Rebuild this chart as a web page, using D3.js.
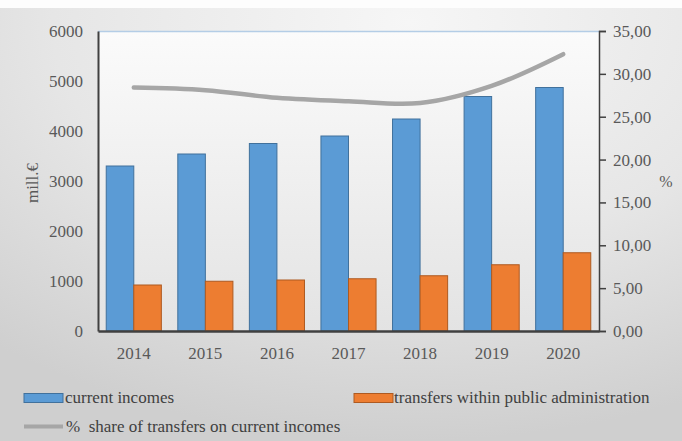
<!DOCTYPE html>
<html>
<head>
<meta charset="utf-8">
<script src="https://cdn.jsdelivr.net/npm/d3@7/dist/d3.min.js"></script>
<style>
  html, body { margin: 0; padding: 0; background: #fff; }
  svg { display: block; }
  svg text { font-family: "Liberation Serif", "Times New Roman", Times, "DejaVu Serif", serif !important; }
</style>
</head>
<body>
<svg id="chart" width="682" height="441"></svg>
<script>
// Years on the category axis
const years = ["2014", "2015", "2016", "2017", "2018", "2019", "2020"];
// Current incomes, mill. €
const currentIncomes = [3300, 3540, 3750, 3900, 4240, 4690, 4870];
// Transfers within public administration, mill. €
const transfers = [920, 995, 1020, 1045, 1105, 1325, 1565];
// Share of transfers on current incomes, %
const shareTransfers = [28.4, 28.1, 27.2, 26.8, 26.6, 28.6, 32.3];
// Axis ticks
const leftTicks = [0, 1000, 2000, 3000, 4000, 5000, 6000];
const rightTicks = [0, 5, 10, 15, 20, 25, 30, 35];
const seriesNames = ["current incomes", "transfers within public administration", "% share of transfers on current incomes"];

const W = 682, H = 441;
const plot = { left: 98, right: 599, top: 31, bottom: 331 };
const FONT = "'Liberation Serif', 'Times New Roman', Times, 'DejaVu Serif', serif";
const FS = 17;

const svg = d3.select("#chart");
const defs = svg.append("defs");

// Soft grey backdrop, lighter towards the top centre
const bg = defs.append("radialGradient").attr("id", "bgGrad")
  .attr("cx", "0.6").attr("cy", "0.05").attr("r", "0.95");
bg.append("stop").attr("offset", "0").attr("stop-color", "#f6f6f6");
bg.append("stop").attr("offset", "0.55").attr("stop-color", "#e6e6e6");
bg.append("stop").attr("offset", "1").attr("stop-color", "#cfcfcf");

const pg = defs.append("linearGradient").attr("id", "plotGrad")
  .attr("x1", 0).attr("y1", 0).attr("x2", 0).attr("y2", 1);
pg.append("stop").attr("offset", "0").attr("stop-color", "#fbfbfb");
pg.append("stop").attr("offset", "1").attr("stop-color", "#e3e3e3");

defs.append("filter").attr("id", "soft")
  .attr("filterUnits", "userSpaceOnUse")
  .attr("x", 0).attr("y", 0).attr("width", W).attr("height", H)
  .append("feGaussianBlur").attr("stdDeviation", 0.6);

svg.append("rect").attr("width", W).attr("height", H).attr("fill", "url(#bgGrad)");
svg.append("rect").attr("width", W).attr("height", 8).attr("fill", "#fdfdfd");

svg.append("rect")
  .attr("x", plot.left).attr("y", plot.top)
  .attr("width", plot.right - plot.left).attr("height", plot.bottom - plot.top)
  .attr("fill", "url(#plotGrad)");

// Scales
const x = d3.scaleBand().domain(years).range([plot.left, plot.right])
  .paddingInner(0.23).paddingOuter(0.115);
const xSub = d3.scaleBand().domain(["inc", "tr"]).range([0, x.bandwidth()]);
const yL = d3.scaleLinear().domain([0, 6000]).range([plot.bottom, plot.top]);
const yR = d3.scaleLinear().domain([0, 35]).range([plot.bottom, plot.top]);

// Top border of plot area
svg.append("line")
  .attr("x1", plot.left).attr("x2", plot.right)
  .attr("y1", plot.top + 0.5).attr("y2", plot.top + 0.5)
  .attr("stroke", "#b4cde6").attr("stroke-width", 1.5);

// Bars
const groups = svg.append("g").selectAll("g").data(years).join("g")
  .attr("transform", d => `translate(${x(d)},0)`);

groups.append("rect")
  .attr("x", xSub("inc")).attr("width", xSub.bandwidth())
  .attr("y", (d, i) => yL(currentIncomes[i]))
  .attr("height", (d, i) => yL(0) - yL(currentIncomes[i]))
  .attr("fill", "#5b9bd5").attr("stroke", "#41719c").attr("stroke-width", 1);

groups.append("rect")
  .attr("x", xSub("tr")).attr("width", xSub.bandwidth())
  .attr("y", (d, i) => yL(transfers[i]))
  .attr("height", (d, i) => yL(0) - yL(transfers[i]))
  .attr("fill", "#ed7d31").attr("stroke", "#ae5a21").attr("stroke-width", 1);

// Share line on secondary axis
const line = d3.line()
  .x((d, i) => x(years[i]) + x.bandwidth() / 2)
  .y(d => yR(d))
  .curve(d3.curveCatmullRom.alpha(0.5));

svg.append("path").datum(shareTransfers)
  .attr("d", line)
  .attr("fill", "none").attr("stroke", "#a6a6a6")
  .attr("stroke-width", 4.5).attr("stroke-linecap", "round")
  .attr("filter", "url(#soft)");

// Axes
const tickColor = "#595959";

const leftAxis = svg.append("g").attr("transform", `translate(${plot.left},0)`)
  .call(d3.axisLeft(yL).tickValues(leftTicks).tickSize(0).tickPadding(15).tickFormat(d3.format("d")));
leftAxis.attr("font-family", FONT);
leftAxis.select(".domain").attr("stroke", "#404040").attr("stroke-width", 2);
leftAxis.selectAll("text").attr("font-size", FS).attr("fill", tickColor);

const fmtR = d => d3.format(".2f")(d).replace(".", ",");
const rightAxis = svg.append("g").attr("transform", `translate(${plot.right},0)`)
  .call(d3.axisRight(yR).tickValues(rightTicks).tickSize(7).tickPadding(7).tickFormat(fmtR));
rightAxis.attr("font-family", FONT);
rightAxis.select(".domain").attr("stroke", "#404040").attr("stroke-width", 1.5);
rightAxis.selectAll("line").attr("stroke", "#404040").attr("stroke-width", 1.5);
rightAxis.selectAll("text").attr("font-size", FS).attr("fill", tickColor);

const bottomAxis = svg.append("g").attr("transform", `translate(0,${plot.bottom})`)
  .call(d3.axisBottom(x).tickSize(0).tickPadding(16));
bottomAxis.attr("font-family", FONT);
bottomAxis.select(".domain").attr("stroke", "#404040").attr("stroke-width", 2.5);
bottomAxis.selectAll("text").attr("font-size", FS).attr("fill", tickColor);

// Axis titles
svg.append("text")
  .attr("transform", "translate(38,183) rotate(-90)")
  .attr("text-anchor", "middle")
  .attr("font-family", FONT)
  .attr("font-size", FS).attr("fill", tickColor)
  .text("mill.€");

svg.append("text")
  .attr("x", 666).attr("y", 187)
  .attr("text-anchor", "middle")
  .attr("font-family", FONT)
  .attr("font-size", 16).attr("fill", tickColor)
  .text("%");

// Legend
const legendColor = "#404040";
const leg = svg.append("g").attr("font-family", FONT);
leg.append("rect").attr("x", 24).attr("y", 393.5).attr("width", 39).attr("height", 9)
  .attr("fill", "#5b9bd5").attr("stroke", "#41719c");
leg.append("text").attr("x", 65).attr("y", 403).attr("font-size", FS).attr("fill", legendColor)
  .text(seriesNames[0]);

leg.append("rect").attr("x", 354).attr("y", 393.5).attr("width", 39).attr("height", 9)
  .attr("fill", "#ed7d31").attr("stroke", "#ae5a21");
leg.append("text").attr("x", 394).attr("y", 403).attr("font-size", FS).attr("fill", legendColor)
  .text(seriesNames[1]);

leg.append("line").attr("x1", 24).attr("x2", 63).attr("y1", 426.5).attr("y2", 426.5)
  .attr("stroke", "#a6a6a6").attr("stroke-width", 4);
leg.append("text").attr("x", 66).attr("y", 432).attr("font-size", FS).attr("fill", legendColor)
  .attr("xml:space", "preserve")
  .text(seriesNames[2].replace("% ", "%  "));
</script>
</body>
</html>
